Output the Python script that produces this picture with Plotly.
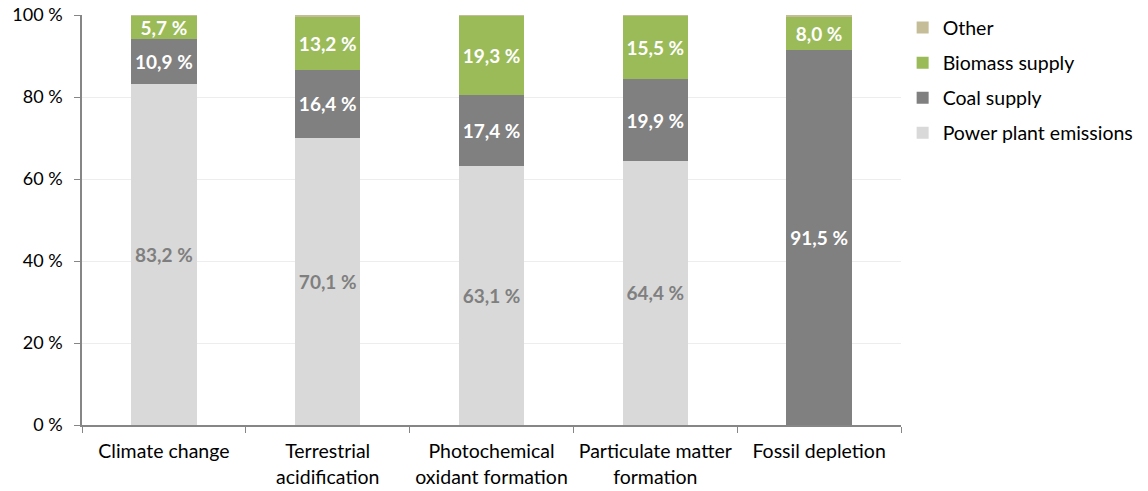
import plotly.graph_objects as go

categories = ["Climate change", "Terrestrial<br>acidification", "Photochemical<br>oxidant formation",
              "Particulate matter<br>formation", "Fossil depletion"]
power_plant = [83.2, 70.1, 63.1, 64.4, 0.0]
coal_supply = [10.9, 16.4, 17.4, 19.9, 91.5]
biomass_supply = [5.7, 13.2, 19.3, 15.5, 8.0]
other = [0.2, 0.3, 0.2, 0.2, 0.5]
y_ticks = [0, 20, 40, 60, 80, 100]


def pct_labels(vals):
    return [(f"{v:.1f}".replace(".", ",") + " %") if v >= 1 else "" for v in vals]


# (name, values, fill, label colour, labelled, legend rank)
series = [
    ("Power plant emissions", power_plant, "#D9D9D9", "#7F7F7F", True, 4),
    ("Coal supply", coal_supply, "#808080", "#FFFFFF", True, 3),
    ("Biomass supply", biomass_supply, "#9BBB59", "#FFFFFF", True, 2),
    ("Other", other, "#C4BD97", "#FFFFFF", False, 1),
]

font_family = "Lato, Open Sans, sans-serif"

fig = go.Figure()
for name, vals, color, tcolor, labelled, rank in series:
    fig.add_trace(go.Bar(
        name=name, x=categories, y=vals,
        legendgroup=name, legendrank=rank,
        marker=dict(color=color, line=dict(width=0)),
        text=pct_labels(vals) if labelled else None,
        textposition="inside" if labelled else "none",
        insidetextanchor="middle",
        textfont=dict(family=font_family, size=19, color=tcolor, weight="bold"),
        constraintext="none",
        cliponaxis=False,
    ))

fig.update_layout(
    barmode="stack",
    bargap=0.6,
    width=1148, height=491,
    margin=dict(l=82, r=247, t=15, b=66, autoexpand=False),
    plot_bgcolor="white", paper_bgcolor="white",
    font=dict(family=font_family, size=18, color="#000000"),
    uniformtext=dict(minsize=19, mode="show"),
    legend=dict(
        traceorder="grouped",
        x=1.002, y=1.016, xanchor="left", yanchor="top",
        font=dict(size=19.5, color="#000000"),
        itemwidth=30, tracegroupgap=6.7,
        bgcolor="rgba(0,0,0,0)",
    ),
    xaxis=dict(
        showline=True, linecolor="#868686", linewidth=1.5,
        ticks="outside", tickson="boundaries", ticklen=6, tickcolor="#868686",
        tickfont=dict(size=19.5), fixedrange=True, automargin=False,
        ticklabelstandoff=8,
    ),
    yaxis=dict(
        range=[0, 100], tickvals=y_ticks,
        ticktext=[f"{t} %" for t in y_ticks],
        showline=True, linecolor="#868686", linewidth=1.5,
        ticks="outside", ticklen=6, tickcolor="#868686",
        showgrid=True, gridcolor="#EDEDED", gridwidth=1,
        tickfont=dict(size=18), zeroline=False, automargin=False,
        ticklabelstandoff=8,
    ),
)

fig.write_html("out.html")
